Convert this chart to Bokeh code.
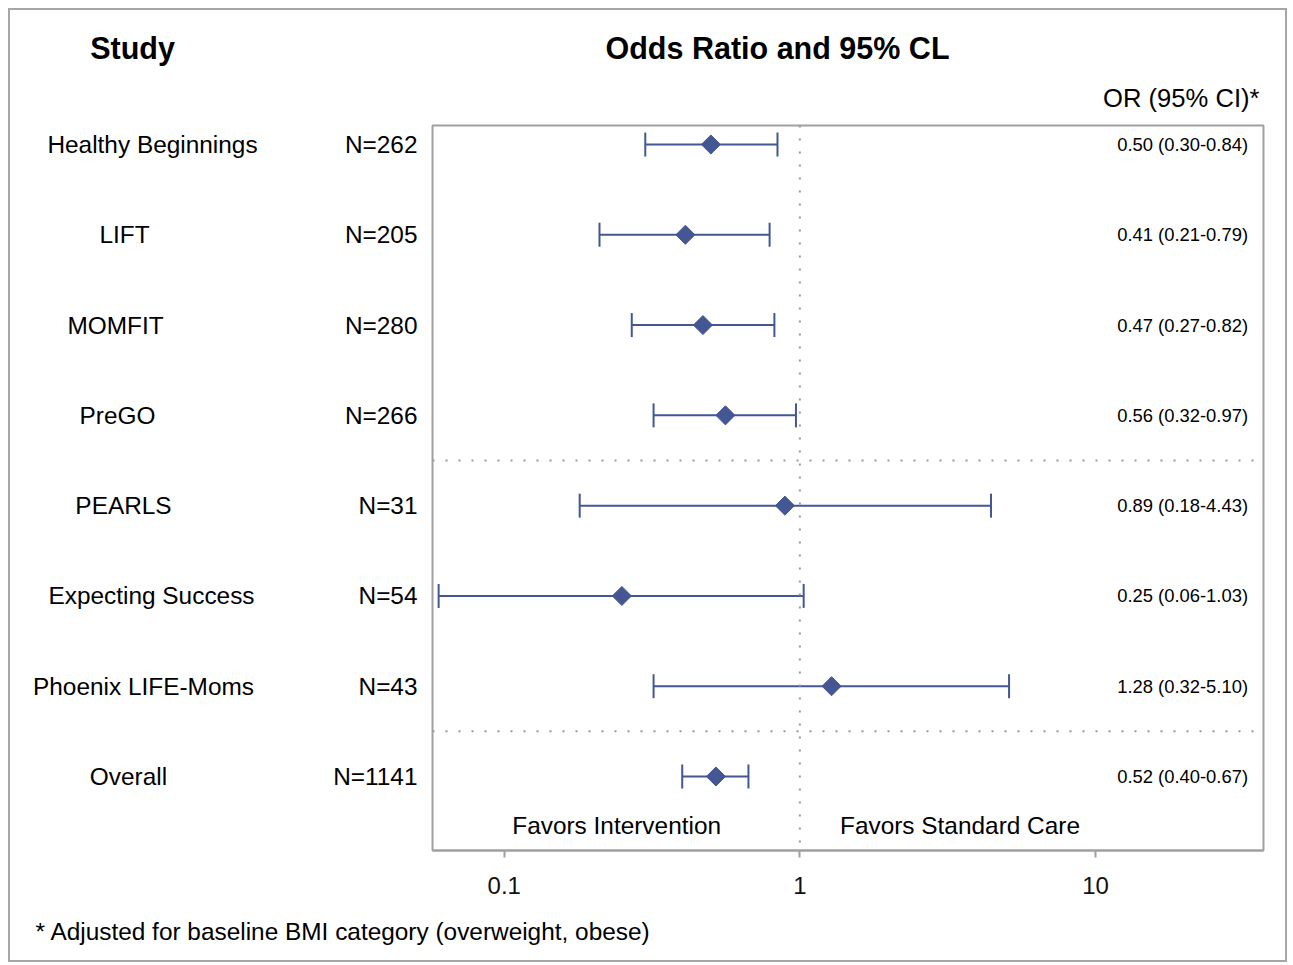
from bokeh.plotting import figure
from bokeh.models import (ColumnDataSource, Range1d, FixedTicker, PrintfTickFormatter,
                          Span, Whisker, TeeHead)
from bokeh.layouts import column, row
from bokeh.core.properties import value
from bokeh.embed import file_html
from bokeh.resources import INLINE
import math

# ---------------- data ----------------
studies = ["Healthy Beginnings", "LIFT", "MOMFIT", "PreGO", "PEARLS",
           "Expecting Success", "Phoenix LIFE-Moms", "Overall"]
n_sizes = [262, 205, 280, 266, 31, 54, 43, 1141]
odds = [0.50, 0.41, 0.47, 0.56, 0.89, 0.25, 1.28, 0.52]
lower = [0.30, 0.21, 0.27, 0.32, 0.18, 0.06, 0.32, 0.40]
upper = [0.84, 0.79, 0.82, 0.97, 4.43, 1.03, 5.10, 0.67]
x_ticks = [0.1, 1, 10]
separators = [4.5, 7.5]

rows = list(range(1, len(studies) + 1))
or_text = [f"{o:.2f} ({l:.2f}-{u:.2f})" for o, l, u in zip(odds, lower, upper)]
n_text = [f"N={n}" for n in n_sizes]

# ---------------- style / layout ----------------
FNAME = "Liberation Sans"
FONT = value(FNAME)
BLUE = "#445694"
GRAY = "#a0a0a0"
DOT = "#999999"
BODY = "24.4px"
name_centers = [152, 124, 115, 117, 123, 151, 143, 128]   # page-pixel centres of study names
ROW_PX = 90.286


def blank(width, height, xr, yr, **kw):
    opts = dict(min_border=0, min_border_left=0, min_border_right=0,
                min_border_top=0, min_border_bottom=0)
    opts.update(kw)
    f = figure(width=width, height=height, x_range=xr, y_range=yr,
               output_backend="svg", toolbar_location=None, **opts)
    f.axis.visible = False
    f.grid.visible = False
    f.outline_line_color = None
    f.background_fill_color = "white"
    f.border_fill_color = "white"
    return f


# shared row range: frame spans page y 125..850, row 1 at page y 144
top_m = 1 - (144 - 125) / ROW_PX
yr = Range1d(top_m + 725 / ROW_PX, top_m)

# header (page coords x 10..1285, y 10..115)
head = blank(1275, 105, Range1d(10, 1285), Range1d(115, 10))
head.text(x=[132, 777], y=[47, 47], text=["Study", "Odds Ratio and 95% CL"],
          text_font=FONT, text_font_size="30.5px", text_font_style="bold",
          text_align="center", text_baseline="middle", text_color="black")
head.text(x=[1259], y=[97], text=["OR (95% CI)*"], text_font=FONT, text_font_size="25.6px",
          text_align="right", text_baseline="middle", text_color="black")

# left column (page x 10..422), frame aligned with the main plot frame
left = blank(412, 800, Range1d(10, 422), yr, min_border_top=10, min_border_bottom=65)
lsrc = ColumnDataSource(dict(row=rows, study=studies, ntext=n_text, cx=name_centers,
                             nx=[417] * len(rows)))
left.text(x="cx", y="row", text="study", source=lsrc, text_font=FONT, text_font_size=BODY,
          text_align="center", text_baseline="middle", text_color="black")
left.text(x="nx", y="row", text="ntext", source=lsrc, text_font=FONT, text_font_size=BODY,
          text_align="right", text_baseline="middle", text_color="black")

# main plot: frame at page x 432..1263, y 125..850
p = figure(width=863, height=800, x_axis_type="log",
           x_range=Range1d(0.0572, 37.0), y_range=yr,
           output_backend="svg", toolbar_location=None,
           min_border_left=10, min_border_right=22, min_border_top=10, min_border_bottom=65)
p.yaxis.visible = False
p.xgrid.visible = False
p.ygrid.visible = False
p.outline_line_color = GRAY
p.outline_line_width = 2
p.background_fill_color = "white"
p.border_fill_color = "white"

ax = p.xaxis[0]
ax.ticker = FixedTicker(ticks=x_ticks, minor_ticks=[])
ax.formatter = PrintfTickFormatter(format="%g")
ax.axis_line_color = GRAY
ax.axis_line_width = 2
ax.major_tick_line_color = GRAY
ax.major_tick_line_width = 2
ax.major_tick_out = 7
ax.major_tick_in = 0
ax.minor_tick_line_color = None
ax.major_label_text_font = FNAME
ax.major_label_text_font_size = "24px"
ax.major_label_text_color = "#111111"
ax.major_label_standoff = 19

p.add_layout(Span(location=1, dimension="height", line_color=DOT,
                  line_width=2, line_dash="2 11"))
for loc in separators:
    p.add_layout(Span(location=loc, dimension="width", line_color=DOT,
                      line_width=2, line_dash="2 11"))

src = ColumnDataSource(dict(row=rows, odds=odds, lower=lower, upper=upper, ortext=or_text,
                            orx=[32.8] * len(rows)))
wh = Whisker(source=src, base="row", lower="lower", upper="upper", dimension="width",
             line_color=BLUE, line_width=2,
             lower_head=TeeHead(size=24, line_color=BLUE, line_width=2),
             upper_head=TeeHead(size=24, line_color=BLUE, line_width=2))
p.add_layout(wh)
p.scatter(x="odds", y="row", source=src, marker="square", angle=math.pi / 4,
          size=13.5, fill_color=BLUE, line_color=BLUE)
p.text(x="orx", y="row", text="ortext", source=src, text_font=FONT, text_font_size="18.4px",
       text_align="right", text_baseline="middle", text_color="black")
p.text(x=[0.24, 3.48], y=[8.54, 8.54], text=["Favors Intervention", "Favors Standard Care"],
       text_font=FONT, text_font_size=BODY, text_align="center", text_baseline="middle",
       text_color="black")

# footer (page x 10..1285, y 915..960)
foot = blank(1275, 45, Range1d(10, 1285), Range1d(960, 915))
foot.text(x=[35], y=[931], text=["* Adjusted for baseline BMI category (overweight, obese)"],
          text_font=FONT, text_font_size=BODY, text_align="left", text_baseline="middle",
          text_color="black")

layout = column(head, row(left, p), foot,
                styles={"border": "2px solid #a6a6a6", "margin-left": "8px", "margin-top": "8px"})

open("out.html", "w").write(file_html(layout, INLINE))
